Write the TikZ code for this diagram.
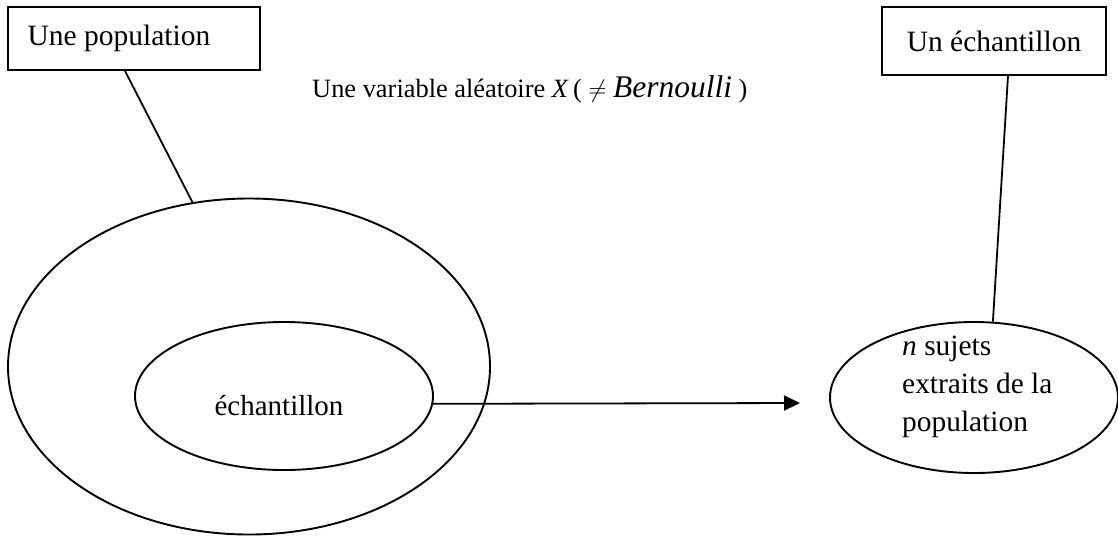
\documentclass[tikz,border=0pt]{standalone}
\usepackage{fontspec}
\setmainfont{Liberation Serif}
\usetikzlibrary{shapes.geometric,arrows.meta}
\begin{document}
\begin{tikzpicture}[x=1pt,y=-1pt,
  lbl/.style={draw,line width=1.9pt,minimum width=252pt,minimum height=63pt,inner sep=0pt,font=\fontsize{29.5}{34}\selectfont},
  ell/.style={draw,ellipse,line width=1.9pt,inner sep=0pt},
  conn/.style={line width=1.8pt}]
\useasboundingbox (0,0) rectangle (1118,539);
\node[lbl,minimum width=252pt] (pop) at (134,38.5) {\hspace*{-30pt}Une population};
\node[lbl,minimum width=224pt,minimum height=68pt] (ech) at (994,41) {Un échantillon};
\node[anchor=base west,inner sep=0pt,font=\fontsize{26.4}{30}\selectfont] (var) at (312,97)
  {Une variable aléatoire \textit{X}\,( $\neq$ {\fontsize{31.5}{34}\selectfont\textit{Bernoulli}} )};
\node[ell,minimum width=482pt,minimum height=336pt] (outer) at (249,366.5) {};
\node[ell,minimum width=298pt,minimum height=148pt] (inner) at (284,396) {};
\node[anchor=base,inner sep=0pt,font=\fontsize{29}{34}\selectfont] (innertext) at (279,415) {échantillon};
\node[ell,minimum width=288pt,minimum height=151pt] (samp) at (974,397.5) {};
\node[anchor=base west,align=left,inner sep=0pt,font=\fontsize{29.4}{38}\selectfont] (samptext) at (902,431)
  {\textit{n} sujets\\extraits de la\\population};
\coordinate (tip) at (800,403);
\draw[conn] ([xshift=-9pt]pop.south) -- (outer.109);
\draw[conn] ([xshift=14pt]ech.south) -- (samp.76);
\draw[conn,-{Triangle[length=16pt,width=15pt]}] (inner.-3) -- (tip);
\end{tikzpicture}
\end{document}
